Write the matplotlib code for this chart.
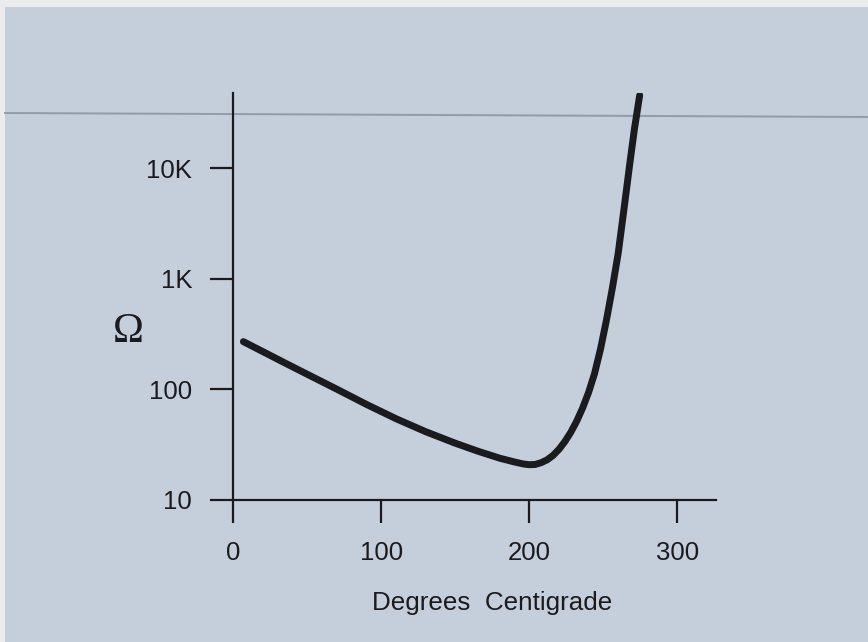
import matplotlib
matplotlib.use("Agg")
import matplotlib.pyplot as plt
from matplotlib.patches import Rectangle
from matplotlib.lines import Line2D

# Resistance of the sensor versus temperature
temperature_c = [7, 20, 35, 50, 70, 90, 110, 130, 150, 165, 180, 190, 196, 200, 204,
                 208, 212, 216, 220, 224, 228, 232, 236, 240, 244, 248, 252, 256,
                 260, 264, 268, 271, 274.5]
resistance_ohm = [269, 219, 172.6, 136.5, 100, 72.8, 54.0, 41.2, 32.4, 27.5, 23.7, 21.9,
                  21.0, 20.7, 20.8, 21.6, 22.9, 25.1, 28.5, 33.5, 40.7, 51.3, 67.6,
                  93.3, 138, 229, 417, 813, 1700, 4370, 11480, 22900, 45700]

x_ticks = [0, 100, 200, 300]
x_tick_labels = ["0", "100", "200", "300"]
y_ticks = [10, 100, 1000, 10000]
y_tick_labels = ["10", "100", "1K", "10K"]

ink = "#1b1b1e"
paper = "#c5cedb"

fig = plt.figure(figsize=(8.68, 6.42), dpi=100, facecolor="#ececec")
W, H = 868, 642

# printed page tint and the faint rule crossing it
fig.patches.append(Rectangle((5 / W, 0), 1, 1 - 7 / H, transform=fig.transFigure,
                             facecolor=paper, edgecolor="none", zorder=-10))
fig.lines.append(Line2D([5 / W, 1], [1 - 113 / H, 1 - 117 / H], transform=fig.transFigure,
                        color="#909cab", lw=1.4, zorder=-5))

ax = fig.add_axes([233 / W, 142.4 / H, 483 / W, 406.6 / H])
ax.set_facecolor("none")

ax.plot(temperature_c, resistance_ohm, color=ink, lw=5.0,
        solid_capstyle="round", solid_joinstyle="round")

ax.set_yscale("log")
ax.set_xlim(0, 326)
ax.set_ylim(10, 10 ** 4.68)

for side in ("top", "right"):
    ax.spines[side].set_visible(False)
for side in ("left", "bottom"):
    ax.spines[side].set_color(ink)
    ax.spines[side].set_linewidth(1.6)

ax.set_xticks(x_ticks)
ax.set_xticklabels(x_tick_labels)
ax.set_yticks(y_ticks)
ax.set_yticklabels(y_tick_labels)
ax.minorticks_off()
ax.tick_params(axis="both", direction="out", length=16.5, width=1.6, color=ink,
               labelcolor=ink, labelsize=18.5)
ax.tick_params(axis="x", pad=13)
ax.tick_params(axis="y", pad=13)
for lab in ax.get_xticklabels() + ax.get_yticklabels():
    lab.set_fontfamily("Liberation Sans")

ax.set_xlabel("Degrees  Centigrade", fontsize=18.7, color=ink,
              fontfamily="Liberation Sans")
ax.xaxis.set_label_coords(0.536, -0.226)
fig.text(128 / W, 1 - 332 / H, "Ω", fontsize=30, color=ink,
         fontfamily="Liberation Serif", ha="center", va="center")

fig.savefig("out.png", dpi=100, facecolor=fig.get_facecolor())
